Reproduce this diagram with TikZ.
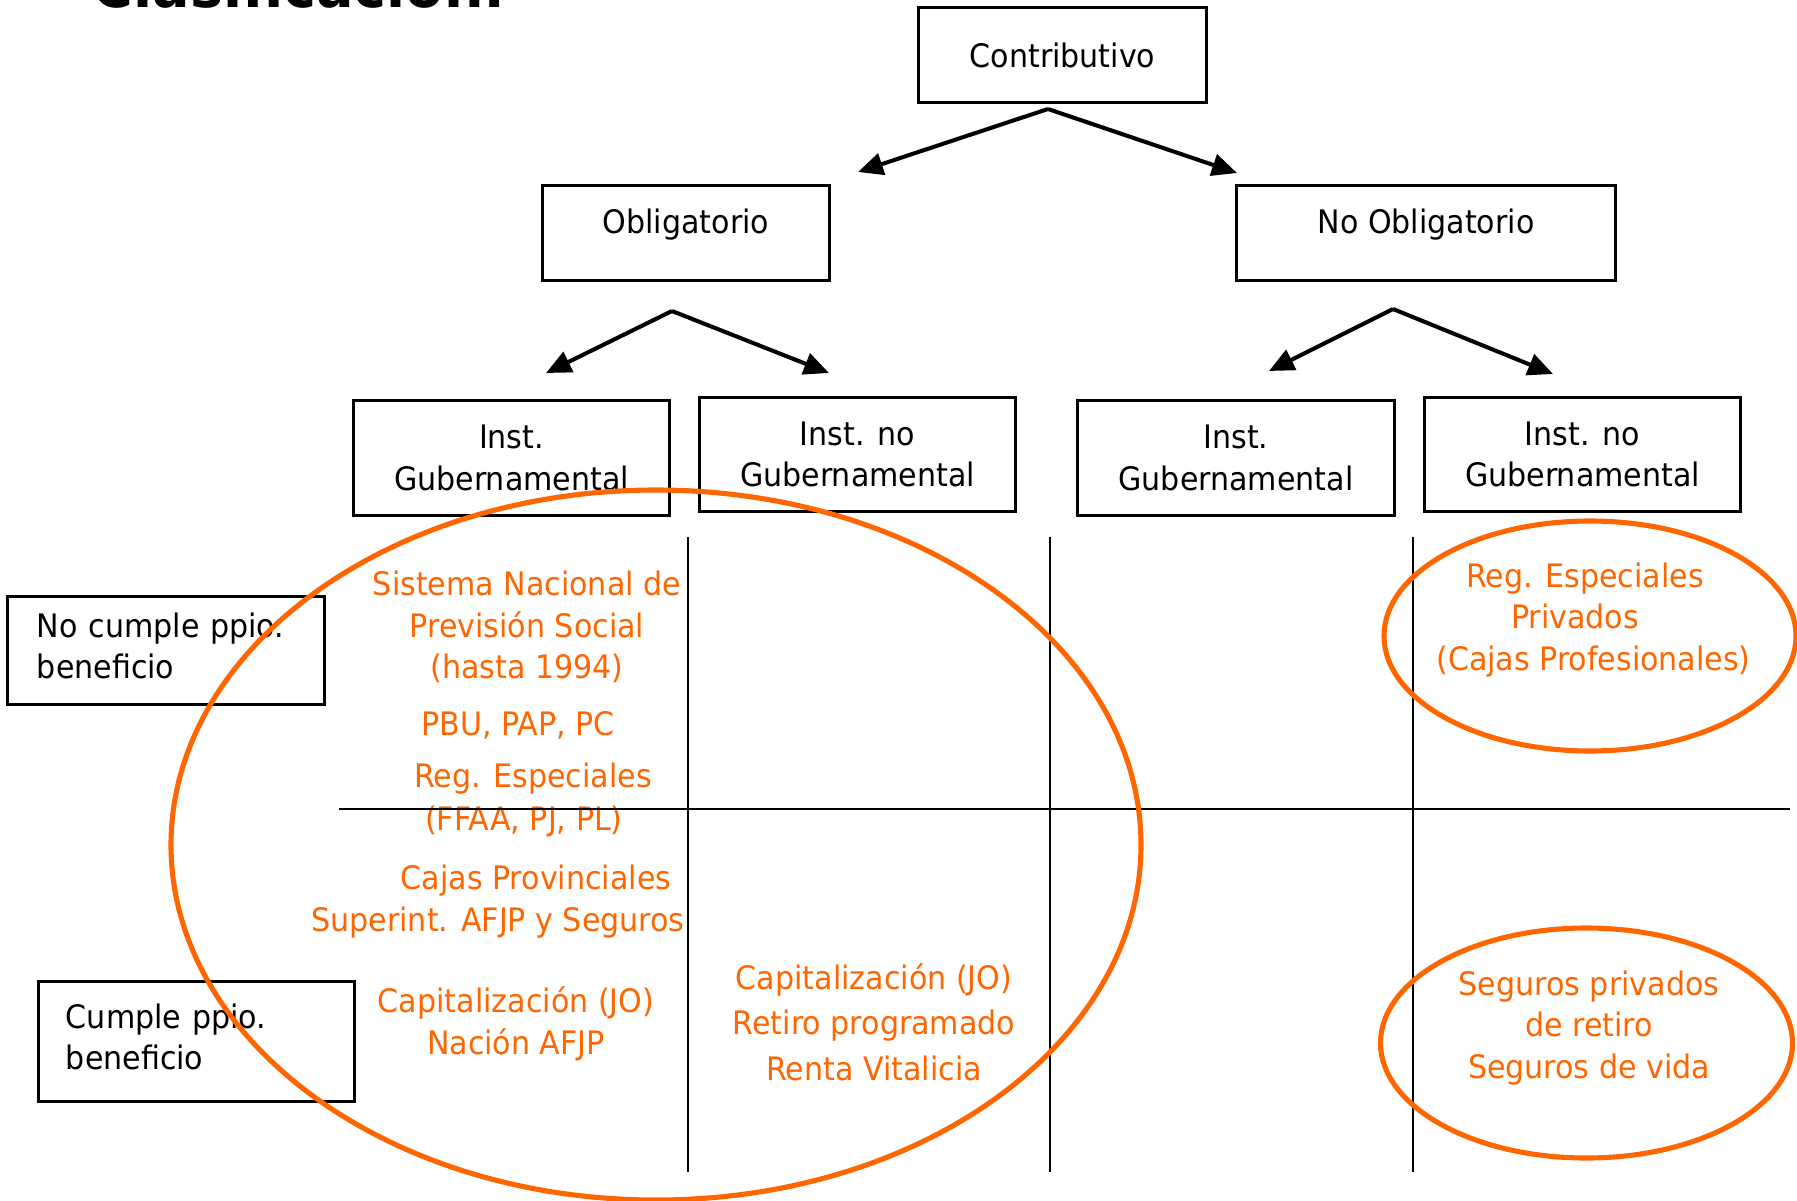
\documentclass[tikz,border=0pt]{standalone}
\usepackage{fontspec}
\setmainfont{DejaVu Sans}[FakeStretch=0.93]
\usepackage{tikz}
\usetikzlibrary{positioning}
\usetikzlibrary{arrows.meta}
\usepackage{xcolor}

\definecolor{naranja}{RGB}{255,102,0}

\tikzset
  {
    caja/.style=    {draw=black, line width=0.85pt, inner sep=0pt, align=center},
    flecha/.style=  {line width=1.15pt, -{Triangle[length=2.5mm,width=2.2mm]}},
    linea/.style=   {black, line width=0.6pt},
    rotulo/.style=  {text=naranja, align=center, inner sep=0pt},
    aro/.style=     {draw=naranja, line width=1.45pt}
  }

\begin{document}
\begin{tikzpicture}[x=0.01cm, y=-0.01cm, font=\fontsize{9.2}{11.8}\selectfont]

\useasboundingbox (0,0) rectangle (1797,1200);

\node[anchor=base west, inner sep=0pt, font=\bfseries\fontsize{17}{20}\selectfont] (titulo) at (92,8)
{Clasificación:};

% texto naranja
\node[rotulo] (snps) at (527,627)
{Sistema Nacional de\\Previsión Social\\(hasta 1994)};
\node[rotulo] (pbu) at (518,725)
{PBU, PAP, PC};
\node[rotulo] (regesp) at (533,779)
{Reg. Especiales};
\node[rotulo] (ffaa) at (524,821)
{(FFAA, PJ, PL)};
\node[rotulo] (cajas) at (536,881)
{Cajas Provinciales};
\node[rotulo] (superint) at (498,923)
{Superint. AFJP y Seguros};
\node[rotulo] (capnac) at (516,1024)
{Capitalización (JO)\\Nación AFJP};
\node[rotulo, font=\fontsize{9.2}{12.9}\selectfont] (capret) at (874,1022)
{Capitalización (JO)\\Retiro programado\\Renta Vitalicia};
\node[rotulo] (regpriv) at (1585,620)
{Reg. Especiales\\\hspace*{-0.2cm}Privados\\\hspace*{0.17cm}(Cajas Profesionales)};
\node[rotulo] (segpriv) at (1589,1028)
{Seguros privados\\de retiro\\Seguros de vida};

% grilla
\foreach \x in {688,1050,1413}
\draw[linea] (\x,537)--(\x,1172);
\draw[linea] (339,809)--(1790,809);

% cajas
\node[caja, minimum width=2.87cm, minimum height=0.94cm] (contrib) at (1062.5,55)
{Contributivo};
\node[caja, minimum width=2.86cm, minimum height=0.94cm, text height=7pt, text depth=7pt] (oblig) at (686,233)
{Obligatorio};
\node[caja, minimum width=3.78cm, minimum height=0.94cm, text height=7pt, text depth=7pt] (noblig) at (1426,233)
{No Obligatorio};

\node[caja, minimum width=3.15cm, minimum height=1.14cm] (gob1) at (511.5,458)
{Inst.\\Gubernamental};
\node[caja, minimum width=3.15cm, minimum height=1.13cm] (nogob1) at (857.5,454.5)
{Inst. no\\Gubernamental};
\node[caja, minimum width=3.16cm, minimum height=1.14cm] (gob2) at (1236,458)
{Inst.\\Gubernamental};
\node[caja, minimum width=3.15cm, minimum height=1.13cm] (nogob2) at (1582.5,454.5)
{Inst. no\\Gubernamental};

\node[caja, align=left, text width=2.58cm, inner xsep=0.29cm, minimum height=1.07cm, text height=7pt, text depth=14.6pt] (nocumple) at (166,650.5)
{No cumple ppio.\\beneficio};
\node[caja, align=left, text width=2.61cm, inner xsep=0.27cm, minimum height=1.19cm, text height=7pt, text depth=14.6pt] (cumple) at (196.5,1041.5)
{Cumple ppio.\\beneficio};

% flechas
\coordinate (ap0) at (1048,109);
\coordinate (ap0l) at (858,172);
\coordinate (ap0r) at (1237,173);
\coordinate (ap1) at (672,311);
\coordinate (ap1l) at (546,373);
\coordinate (ap1r) at (829,373);
\coordinate (ap2) at (1393,309);
\coordinate (ap2l) at (1269,371);
\coordinate (ap2r) at (1553,374);

\foreach \a in {ap0,ap1,ap2}
{
\draw[flecha] (\a)--(\a l);
\draw[flecha] (\a)--(\a r);
}

% elipses
\draw[aro] (656,845) ellipse [x radius=485, y radius=355];
\draw[aro] (1590,636) ellipse [x radius=206, y radius=115];
\draw[aro] (1586.5,1043) ellipse [x radius=206, y radius=115];

\end{tikzpicture}
\end{document}
